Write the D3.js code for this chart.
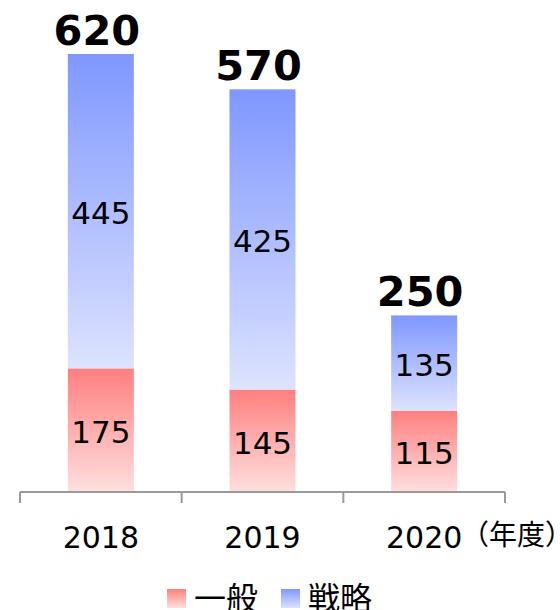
<!DOCTYPE html>
<html>
<head>
<meta charset="utf-8">
<script src="https://cdn.jsdelivr.net/npm/d3@7"></script>
<style>
  body { margin: 0; background: #fff; }
  svg { font-family: "DejaVu Sans", Verdana, sans-serif; }
</style>
</head>
<body>
<svg id="chart" width="560" height="610"></svg>
<script>
const years = ["2018", "2019", "2020"];
const general = [175, 145, 115];
const strategy = [445, 425, 135];
const totals = [620, 570, 250];
const seriesNames = ["一般", "戦略"];

const margin = { top: 54, left: 20, right: 55, bottom: 118 };
const svg = d3.select("#chart");
const width = 560 - margin.left - margin.right;
const height = 610 - margin.top - margin.bottom;

const g = svg.append("g").attr("transform", `translate(${margin.left},${margin.top})`);

const x = d3.scaleBand().domain(years).range([0, width]).paddingInner(0).paddingOuter(0);
const y = d3.scaleLinear().domain([0, 620]).range([height, 0]);
const barW = 66;

// gradients
const defs = svg.append("defs");
function grad(id, top, bottom) {
  const lg = defs.append("linearGradient").attr("id", id)
    .attr("x1", 0).attr("y1", 0).attr("x2", 0).attr("y2", 1);
  lg.append("stop").attr("offset", "0%").attr("stop-color", top);
  lg.append("stop").attr("offset", "100%").attr("stop-color", bottom);
}
grad("gRed", "#ff7f7f", "#ffdfdf");
grad("gBlue", "#7f97ff", "#dde3ff");

const rows = years.map((yr, i) => ({ yr, general: general[i], strategy: strategy[i], total: totals[i] }));
const stack = d3.stack().keys(["general", "strategy"])(rows);
const fills = ["url(#gRed)", "url(#gBlue)"];

stack.forEach((layer, li) => {
  g.selectAll(".seg" + li)
    .data(layer)
    .join("rect")
    .attr("x", d => x(d.data.yr) + x.bandwidth() / 2 - barW / 2)
    .attr("y", d => y(d[1]))
    .attr("width", barW)
    .attr("height", d => y(d[0]) - y(d[1]))
    .attr("fill", fills[li]);

  g.selectAll(".lab" + li)
    .data(layer)
    .join("text")
    .attr("x", d => x(d.data.yr) + x.bandwidth() / 2)
    .attr("y", d => (y(d[0]) + y(d[1])) / 2)
    .attr("dy", "0.42em")
    .attr("text-anchor", "middle")
    .style("font-size", "31px")
    .text(d => d[1] - d[0]);
});

g.selectAll(".total")
  .data(rows)
  .join("text")
  .attr("x", d => x(d.yr) + x.bandwidth() / 2 - 4)
  .attr("y", d => y(d.total) - 9)
  .attr("text-anchor", "middle")
  .style("font-size", "41.5px")
  .style("font-weight", "bold")
  .text(d => d.total);

// axis
const axis = g.append("g").attr("transform", `translate(0,${height})`);
axis.append("line").attr("x1", 0).attr("x2", width).attr("stroke", "#999").attr("stroke-width", 2);
const edges = years.map(yr => x(yr)).concat([width]);
axis.selectAll(".tick")
  .data(edges)
  .join("line")
  .attr("x1", d => d).attr("x2", d => d)
  .attr("y1", 0).attr("y2", 11)
  .attr("stroke", "#999").attr("stroke-width", 2);
axis.selectAll(".yl")
  .data(years)
  .join("text")
  .attr("x", d => x(d) + x.bandwidth() / 2)
  .attr("y", 56)
  .attr("text-anchor", "middle")
  .style("font-size", "30px")
  .text(d => d);
axis.append("text")
  .attr("x", 441)
  .attr("y", 53)
  .style("font-family", "'Noto Sans CJK JP', sans-serif")
  .style("font-size", "28px")
  .text("（年度）");

// legend
const legend = svg.append("g").attr("transform", "translate(167,589)");
const legItems = [
  { name: seriesNames[0], fill: fills[0], x: 0 },
  { name: seriesNames[1], fill: fills[1], x: 114 }
];
legItems.forEach(it => {
  legend.append("rect").attr("x", it.x).attr("y", 0).attr("width", 19).attr("height", 19).attr("fill", it.fill);
  legend.append("text").attr("x", it.x + 27).attr("y", 21)
    .style("font-family", "'Noto Sans CJK JP', sans-serif")
    .style("font-size", "32px")
    .text(it.name);
});
</script>
</body>
</html>
